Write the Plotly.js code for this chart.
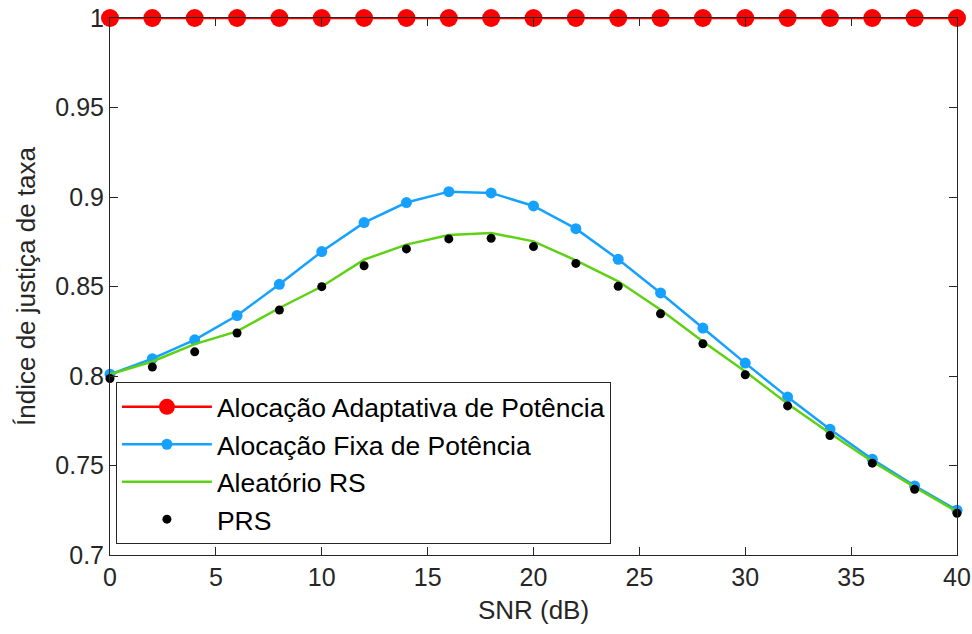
<!DOCTYPE html>
<html>
<head>
<meta charset="utf-8">
<script src="https://cdn.plot.ly/plotly-3.0.1.min.js"></script>
<style>html,body{margin:0;padding:0;background:#fff;}#chart{width:972px;height:634px;}</style>
</head>
<body>
<div id="chart"></div>
<script>
const snr = [0,2,4,6,8,10,12,14,16,18,20,22,24,26,28,30,32,34,36,38,40];
const adaptativa = [1,1,1,1,1,1,1,1,1,1,1,1,1,1,1,1,1,1,1,1,1];
const fixa = [0.801,0.8097,0.8202,0.8338,0.8512,0.8695,0.8857,0.8969,0.903,0.9023,0.8950,0.8823,0.8652,0.8464,0.8268,0.8072,0.7882,0.7703,0.7535,0.7386,0.7250];
const aleatorio = [0.801,0.8081,0.8178,0.8249,0.8380,0.8500,0.8650,0.8734,0.8788,0.8799,0.8752,0.8646,0.8529,0.8370,0.8193,0.8025,0.7845,0.7680,0.7522,0.7379,0.7242];
const prs = [0.7986,0.8050,0.8135,0.8240,0.8369,0.8499,0.8616,0.8710,0.8766,0.8769,0.8723,0.8629,0.8501,0.8348,0.8180,0.8007,0.7833,0.7667,0.7513,0.7367,0.7233];
const names = ['Alocação Adaptativa de Potência','Alocação Fixa de Potência','Aleatório RS','PRS'];
const xTicks = [0,5,10,15,20,25,30,35,40];
const yTicks = [0.7,0.75,0.8,0.85,0.9,0.95,1];
const yTickText = ['0.7','0.75','0.8','0.85','0.9','0.95','1'];

const FONT = 'Liberation Sans, Arial, sans-serif';

const traces = [
  {x:snr, y:adaptativa, name:names[0], mode:'lines+markers', cliponaxis:false,
   line:{color:'#FF0000', width:2.5}, marker:{color:'#FF0000', size:18}},
  {x:snr, y:fixa, name:names[1], mode:'lines+markers', cliponaxis:false,
   line:{color:'#17A1FF', width:2.5}, marker:{color:'#17A1FF', size:11}},
  {x:snr, y:aleatorio, name:names[2], mode:'lines', cliponaxis:false,
   line:{color:'#5FD114', width:2.5}},
  {x:snr, y:prs, name:names[3], mode:'markers', cliponaxis:false,
   marker:{color:'#000000', size:9}}
];

const axisCommon = {
  showgrid:false, zeroline:false, showline:true, linecolor:'#262626', linewidth:1,
  mirror:'ticks', ticks:'inside', ticklen:8, tickcolor:'#262626',
  tickfont:{family:FONT, size:25, color:'#262626'}
};

const layout = {
  width:972, height:634,
  margin:{l:110, r:15, t:18, b:79},
  paper_bgcolor:'#ffffff', plot_bgcolor:'#ffffff',
  showlegend:true,
  font:{family:FONT, color:'#262626'},
  xaxis:Object.assign({}, axisCommon, {
    range:[0,40], tickvals:xTicks, ticktext:xTicks.map(String),
    title:{text:'SNR (dB)', font:{size:26, color:'#262626'}, standoff:10}
  }),
  yaxis:Object.assign({}, axisCommon, {
    range:[0.7,1], tickvals:yTicks, ticktext:yTickText,
    title:{text:'Índice de justiça de taxa', font:{size:26, color:'#262626'}, standoff:12}
  }),
  legend:{
    x:0.007, y:0.322, xanchor:'left', yanchor:'top',
    bgcolor:'#ffffff', bordercolor:'#262626', borderwidth:1,
    font:{family:FONT, size:26.5, color:'#000000'},
    itemwidth:90, itemsizing:'trace', tracegroupgap:0,
    entrywidth:495, entrywidthmode:'pixels'
  }
};

Plotly.newPlot('chart', traces, layout, {displayModeBar:false, staticPlot:true});
</script>
</body>
</html>
